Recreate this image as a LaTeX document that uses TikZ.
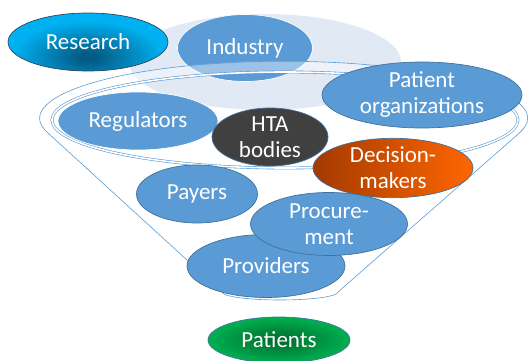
\documentclass[tikz,border=0pt]{standalone}
\usepackage{fontspec}
\setmainfont{Carlito}
\usepackage{xcolor}
\usepackage{tikz}
\usetikzlibrary{shapes.geometric}
\definecolor{cblue}{RGB}{91,155,213}
\definecolor{cedge}{RGB}{65,113,156}
\definecolor{cpale}{RGB}{225,233,245}
\definecolor{cgrey}{RGB}{64,64,64}
\definecolor{cresin}{RGB}{4,92,134}
\definecolor{cresout}{RGB}{0,176,240}
\definecolor{cresedge}{RGB}{47,72,98}
\definecolor{corin}{RGB}{163,58,0}
\definecolor{corout}{RGB}{255,102,0}
\definecolor{cgrin}{RGB}{0,112,48}
\definecolor{cgrout}{RGB}{0,176,80}
\pgfdeclareradialshading{resglow}{\pgfpoint{0bp}{0bp}}%
  {color(0bp)=(cresin); color(3bp)=(cresin); color(25bp)=(cresout); color(50bp)=(cresout)}
\pgfdeclareradialshading{patglow}{\pgfpoint{0bp}{0bp}}%
  {color(0bp)=(cgrin); color(3bp)=(cgrin); color(25bp)=(cgrout); color(50bp)=(cgrout)}

\begin{document}
\begin{tikzpicture}[x=1pt, y=-1pt,
    % Box styles
    blob/.style={ellipse, inner sep=0pt, line width=0.7pt, text=white, align=center,
                 font=\fontsize{23}{26}\selectfont},
    cfill/.style={blob, fill=cblue, draw=cedge},
    rim/.style={draw=cblue, line width=0.6pt},
  ]
  \useasboundingbox (0,0) rectangle (531,361);

  % ===== BACK: pale plate, Research, Industry =====
  \node[ellipse, fill=cpale, minimum width=272pt, minimum height=96pt] (plate) at (265,62) {};
  % glow of Research sits low in the ellipse
  \fill[cresout] (88,42) ellipse[x radius=80, y radius=29];
  \begin{scope}
    \clip (88,42) ellipse[x radius=80, y radius=29];
    \shade[shading=resglow] (88,57) ellipse[x radius=75, y radius=36];
  \end{scope}
  \node[blob, draw=cresedge, minimum width=160pt, minimum height=58pt]
    (research) at (88,42) {Research};
  \node[cfill, draw=white, minimum width=135pt, minimum height=67pt]
    (industry) at (245,48) {Industry};

  % ===== FUNNEL =====
  \fill[white, opacity=0.4, even odd rule]
    (284,118) ellipse[x radius=244, y radius=57] (285,120) ellipse[x radius=233, y radius=48];
  \draw[rim] (48,133) arc[start angle=165, end angle=375, x radius=244, y radius=57]
    -- (338,292) arc[start angle=0, end angle=180, x radius=58, y radius=8] -- cycle;
  \draw[rim, double, double distance=1.6pt] (285,120) ellipse[x radius=233, y radius=48];

  % ===== INSIDE the funnel =====
  \node[cfill, draw=white, minimum width=160pt, minimum height=58pt]
    (regulators) at (138,121) {Regulators};
  \node[blob, fill=cgrey, draw=cedge, minimum width=116pt, minimum height=58pt]
    (hta) at (270,137) {HTA\\bodies};
  \node[cfill, minimum width=200pt, minimum height=66pt]
    (patorg) at (422,95) {Patient\\organizations};
  \node[blob, left color=corin, right color=corout, draw=cedge, minimum width=160pt, minimum height=59pt]
    (decision) at (393,168) {Decision-\\makers};
  \node[cfill, minimum width=121pt, minimum height=58pt]
    (payers) at (197,194) {Payers};
  \node[cfill, minimum width=158pt, minimum height=63pt]
    (providers) at (266,266) {Providers};
  \node[cfill, minimum width=157pt, minimum height=63pt]
    (procurement) at (329,224) {Procure-\\ment};

  % ===== BOTTOM =====
  \node[blob, shade, shading=patglow, draw=cedge, minimum width=142pt, minimum height=46pt]
    (patients) at (279,340) {Patients};

\end{tikzpicture}
\end{document}
